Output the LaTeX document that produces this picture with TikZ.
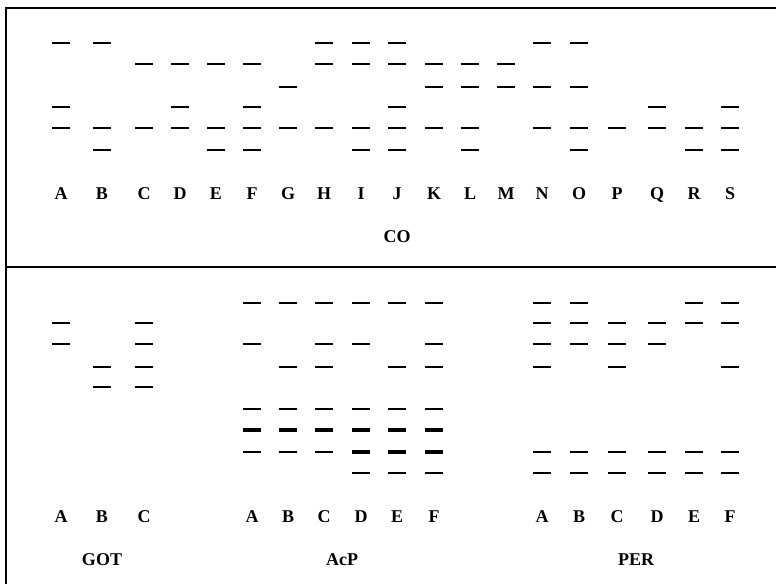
\documentclass[tikz,border=0pt]{standalone}
\usepackage{fontspec}
\setmainfont{Liberation Serif}
\usetikzlibrary{positioning}

\begin{document}
\begin{tikzpicture}[x=1pt, y=-1pt, font=\bfseries\fontsize{18}{20}\selectfont,
  frame/.style={line width=2pt},
  band/.style={line width=2pt},
  thickband/.style={line width=4pt},
  lane/.style={anchor=base, inner sep=0pt},
  group/.style={anchor=base, inner sep=0pt}]
\useasboundingbox (0,0) rectangle (776,584);
\draw[frame] (6,584) -- (6,8) -- (776,8);
\draw[frame] (6,266.7) -- (776,266.7);
% CO
\foreach \n/\x/\ys in {A/61/{43,107,128}, B/102/{43,128,150}, C/144/{64,128},
    D/180/{64,107,128}, E/216/{64,128,150}, F/252/{64,107,128,150}, G/288/{87,128},
    H/324/{43,64,128}, I/361/{43,64,128,150}, J/397/{43,64,107,128,150},
    K/434/{64,87,128}, L/470/{64,87,128,150}, M/506/{64,87}, N/542/{43,87,128},
    O/579/{43,87,128,150}, P/617/{128}, Q/657/{107,128}, R/694/{128,150},
    S/730/{107,128,150}}{
  \node[lane] (co-\n) at (\x,199) {\n};
  \foreach \y in \ys \draw[band] (\x-9.2,\y) -- (\x+9.2,\y);
}
\node[group] (co) at (397,242) {CO};
% GOT
\foreach \n/\x/\ys in {A/61/{323,344}, B/102/{367,387}, C/144/{323,344,367,387}}{
  \node[lane] (got-\n) at (\x,522) {\n};
  \foreach \y in \ys \draw[band] (\x-9.2,\y) -- (\x+9.2,\y);
}
\node[group] (got) at (102,565) {GOT};
% AcP
\foreach \n/\x/\ys/\zs in {A/252/{303,344,409,452}/{430}, B/288/{303,367,409,452}/{430},
    C/324/{303,344,367,409,452}/{430}, D/361/{303,344,409,473}/{430,452},
    E/397/{303,367,409,473}/{430,452}, F/434/{303,344,367,409,473}/{430,452}}{
  \node[lane] (acp-\n) at (\x,522) {\n};
  \foreach \y in \ys \draw[band] (\x-9.2,\y) -- (\x+9.2,\y);
  \foreach \y in \zs \draw[thickband] (\x-9.2,\y) -- (\x+9.2,\y);
}
\node[group] (acp) at (342,565) {AcP};
% PER
\foreach \n/\x/\ys in {A/542/{303,323,344,367,452,473}, B/579/{303,323,344,452,473},
    C/617/{323,344,367,452,473}, D/657/{323,344,452,473}, E/694/{303,323,452,473},
    F/730/{303,323,367,452,473}}{
  \node[lane] (per-\n) at (\x,522) {\n};
  \foreach \y in \ys \draw[band] (\x-9.2,\y) -- (\x+9.2,\y);
}
\node[group] (per) at (636,565) {PER};
\end{tikzpicture}
\end{document}
